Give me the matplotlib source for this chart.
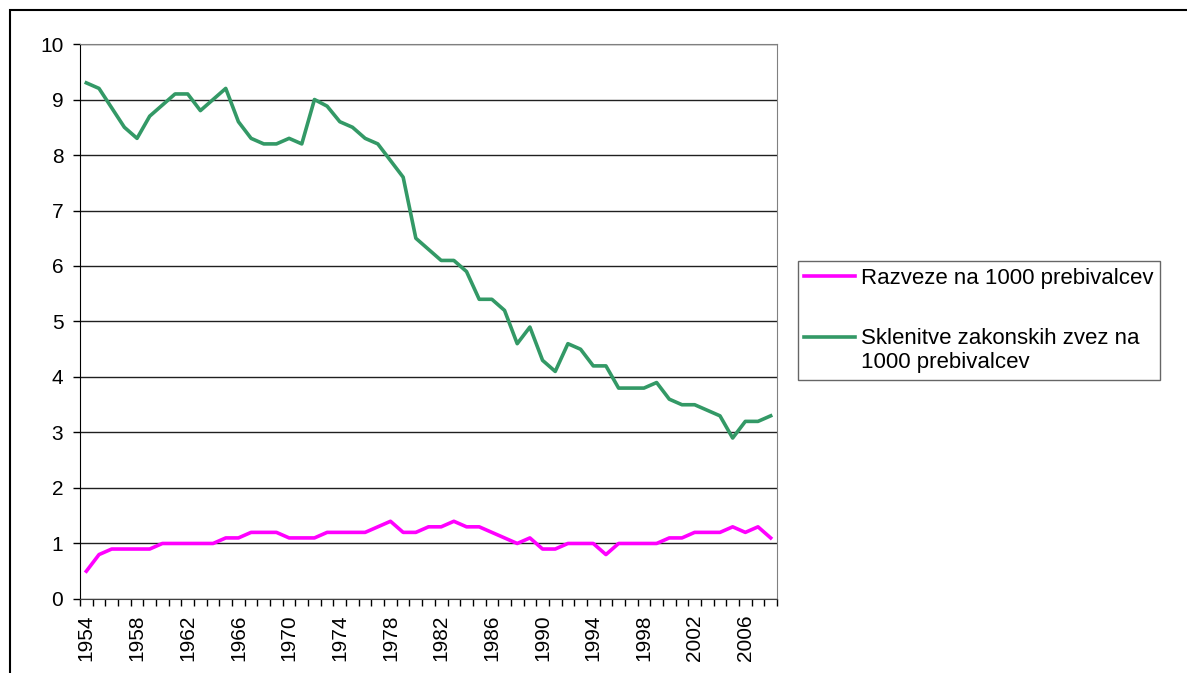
import matplotlib
matplotlib.use("Agg")
import matplotlib.pyplot as plt
from matplotlib.patches import Rectangle
from matplotlib.legend_handler import HandlerLine2D
import numpy as np

plt.rcParams['font.family'] = ['Liberation Sans', 'DejaVu Sans']

years = list(range(1954, 2009))

razveze = [0.5, 0.8, 0.9, 0.9, 0.9, 0.9, 1.0, 1.0, 1.0, 1.0,
           1.0, 1.1, 1.1, 1.2, 1.2, 1.2, 1.1, 1.1, 1.1, 1.2,
           1.2, 1.2, 1.2, 1.3, 1.4, 1.2, 1.2, 1.3, 1.3, 1.4,
           1.3, 1.3, 1.2, 1.1, 1.0, 1.1, 0.9, 0.9, 1.0, 1.0,
           1.0, 0.8, 1.0, 1.0, 1.0, 1.0, 1.1, 1.1, 1.2, 1.2,
           1.2, 1.3, 1.2, 1.3, 1.1]

sklenitve = [9.3, 9.2, 8.85, 8.5, 8.3, 8.7, 8.9, 9.1, 9.1, 8.8,
             9.0, 9.2, 8.6, 8.3, 8.2, 8.2, 8.3, 8.2, 9.0, 8.88,
             8.6, 8.5, 8.3, 8.2, 7.9, 7.6, 6.5, 6.3, 6.1, 6.1,
             5.9, 5.4, 5.4, 5.2, 4.6, 4.9, 4.3, 4.1, 4.6, 4.5,
             4.2, 4.2, 3.8, 3.8, 3.8, 3.9, 3.6, 3.5, 3.5, 3.4,
             3.3, 2.9, 3.2, 3.2, 3.3]

labels = ["Razveze na 1000 prebivalcev",
          "Sklenitve zakonskih zvez na\n1000 prebivalcev"]

FS = 15
LEG_FS = 16


# handle of a two-line label sits on the first text line, like Excel does
class FirstLineHandler(HandlerLine2D):
    def __init__(self, shift, **kw):
        super().__init__(**kw)
        self.shift = shift

    def create_artists(self, legend, orig_handle, xdescent, ydescent,
                       width, height, fontsize, trans):
        arts = super().create_artists(legend, orig_handle, xdescent, ydescent,
                                      width, height, fontsize, trans)
        for a in arts:
            a.set_ydata(np.asarray(a.get_ydata()) + self.shift)
        return arts


fig = plt.figure(figsize=(11.87, 6.73), dpi=100)
ax = fig.add_axes([0.0674, 0.110, 0.5872, 0.8246])

x = list(range(len(years)))
l1, = ax.plot(x, razveze, color='#FF00FF', lw=2.6, label=labels[0])
l2, = ax.plot(x, sklenitve, color='#339966', lw=2.6, label=labels[1])

ax.set_xlim(-0.5, len(years) - 0.5)
ax.set_ylim(0, 10)
ax.set_yticks(range(0, 11))
ax.yaxis.grid(True, color='#202020', lw=1)
ax.set_axisbelow(True)

ax.set_xticks([i - 0.5 for i in range(len(years) + 1)], minor=True)
ax.set_xticks(x[::4])
ax.set_xticklabels([str(y) for y in years[::4]], rotation=90)
ax.tick_params(axis='x', which='major', length=0, labelsize=FS, pad=11)
ax.tick_params(axis='x', which='minor', length=5, width=1, direction='out')
ax.tick_params(axis='y', length=5, width=1, labelsize=FS, pad=7)

for s in ['top', 'right']:
    ax.spines[s].set_color('#808080')
ax.spines['left'].set_color('black')
ax.spines['bottom'].set_color('#404040')

leg = ax.legend(handles=[l1, l2], loc='upper left', bbox_to_anchor=(0.672, 0.612),
                bbox_transform=fig.transFigure, fontsize=LEG_FS, frameon=True,
                fancybox=False, edgecolor='#404040', handlelength=2.3,
                handletextpad=0.25, labelspacing=1.75, borderpad=0.3,
                borderaxespad=0,
                handler_map={l2: FirstLineHandler(shift=0.6 * LEG_FS)})
leg.get_frame().set_linewidth(1)
for t in leg.get_texts():
    t.set_linespacing(1.2)

fig.patches.append(Rectangle((10 / 1187, -0.1), 1.2, 1 - 10 / 673 + 0.1,
                             transform=fig.transFigure, fill=False,
                             edgecolor='black', lw=1.5))

fig.savefig("out.png", dpi=100)
